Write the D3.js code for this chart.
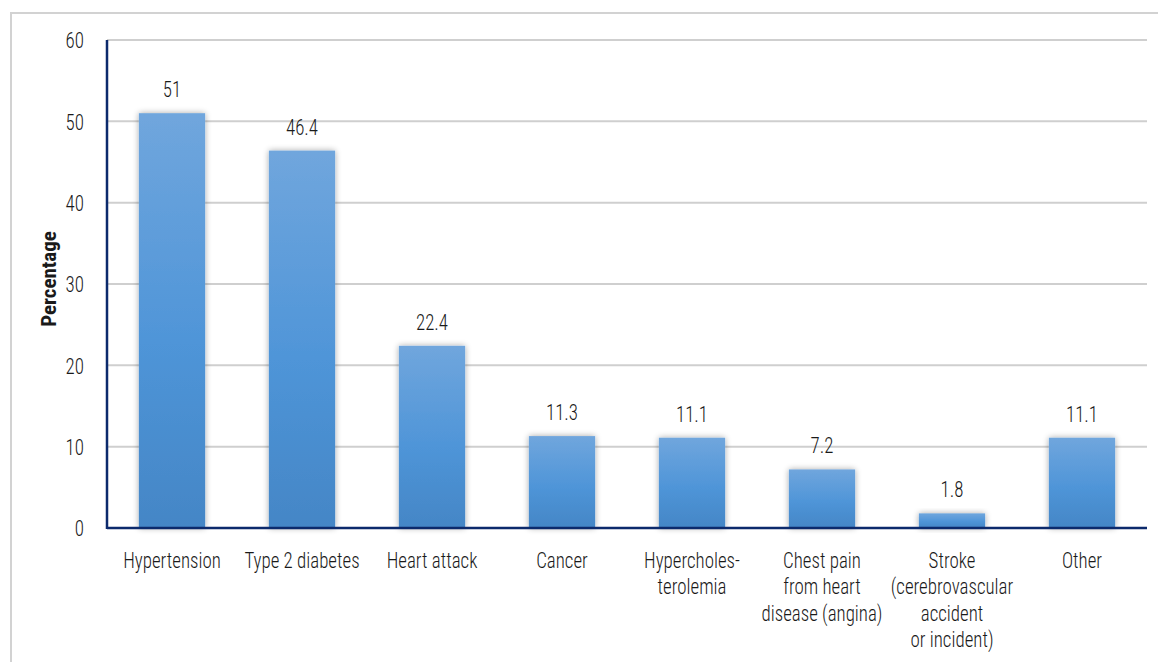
<!DOCTYPE html>
<html><head><meta charset="utf-8">
<script src="https://cdn.jsdelivr.net/npm/d3@7"></script>
<style>
html,body{margin:0;padding:0;background:#fff;}
svg text{font-family:"Roboto Condensed","Liberation Sans Narrow","DejaVu Sans Condensed",Roboto,sans-serif;fill:#1a1a1a;}
</style></head>
<body><svg id="c" width="1158" height="662"></svg>
<script>
const categories = ["Hypertension","Type 2  diabetes","Heart attack","Cancer","Hypercholes-|terolemia","Chest pain|from heart|disease (angina)","Stroke|(cerebrovascular|accident|or incident)","Other"];
const values = [51, 46.4, 22.4, 11.3, 11.1, 7.2, 1.8, 11.1];
const valueLabels = ["51","46.4","22.4","11.3","11.1","7.2","1.8","11.1"];
const yTicks = [0,10,20,30,40,50,60];
const yTitle = "Percentage";

const SX = 0.86, FS = 22, FW = 300;
const svg = d3.select("#c");
const m = {left:107, right:1147, top:40, bottom:528};

svg.append("path").attr("d","M11,670 L11,13 L1170,13").attr("fill","none").attr("stroke","#d2d2d2").attr("stroke-width",2);

const defs = svg.append("defs");
const g = defs.append("linearGradient").attr("id","bg").attr("x1",0).attr("y1",0).attr("x2",0).attr("y2",1);
g.append("stop").attr("offset","0%").attr("stop-color","#70a6dd");
g.append("stop").attr("offset","55%").attr("stop-color","#4f95d8");
g.append("stop").attr("offset","100%").attr("stop-color","#4486c6");
const f = defs.append("filter").attr("id","sh").attr("x","-30%").attr("y","-30%").attr("width","160%").attr("height","160%");
f.append("feGaussianBlur").attr("in","SourceAlpha").attr("stdDeviation",3).attr("result","b");
f.append("feComponentTransfer").attr("in","b").attr("result","o2").append("feFuncA").attr("type","linear").attr("slope",0.35);
const mg = f.append("feMerge"); mg.append("feMergeNode").attr("in","o2"); mg.append("feMergeNode").attr("in","SourceGraphic");

const x = d3.scaleBand().domain(categories).range([m.left, m.right]).paddingInner(0.49).paddingOuter(0.245);
const y = d3.scaleLinear().domain([0,60]).range([m.bottom, m.top]);

svg.append("g").selectAll("line").data(yTicks.filter(d=>d>0)).join("line")
  .attr("x1",m.left).attr("x2",m.right).attr("y1",d=>y(d)).attr("y2",d=>y(d))
  .attr("stroke","#cfcfcf").attr("stroke-width",2);

const ya = svg.append("g").attr("transform",`translate(${m.left},0)`)
  .call(d3.axisLeft(y).tickValues(yTicks).tickSize(0));
ya.select(".domain").remove();
ya.selectAll("text").attr("font-size",FS).attr("font-weight",FW).attr("font-family",null).attr("fill","#1a1a1a")
  .attr("x",0).attr("dy","0.36em").attr("transform",`translate(-23,0) scale(${SX},1)`);

svg.append("g").selectAll("rect").data(values).join("rect")
  .attr("x",(d,i)=>x(categories[i])).attr("width",x.bandwidth())
  .attr("y",d=>y(d)).attr("height",d=>y(0)-y(d))
  .attr("fill","url(#bg)").attr("filter","url(#sh)");

svg.append("g").selectAll("text").data(values).join("text")
  .attr("transform",(d,i)=>`translate(${x(categories[i])+x.bandwidth()/2},${y(d)-16}) scale(${SX},1)`)
  .attr("text-anchor","middle").attr("font-size",FS).attr("font-weight",FW).text((d,i)=>valueLabels[i]);

svg.append("line").attr("x1",m.left).attr("x2",m.left).attr("y1",m.top).attr("y2",m.bottom+1).attr("stroke","#0c2a6c").attr("stroke-width",2.5);
svg.append("line").attr("x1",m.left).attr("x2",m.right).attr("y1",m.bottom).attr("y2",m.bottom).attr("stroke","#0c2a6c").attr("stroke-width",2.5);

const xl = svg.append("g");
categories.forEach(c=>{
  const t = xl.append("text").attr("text-anchor","middle").attr("font-size",FS).attr("font-weight",FW)
    .attr("transform",`translate(${x(c)+x.bandwidth()/2},568) scale(${SX},1)`);
  c.split("|").forEach((ln,j)=>{
    t.append("tspan").attr("x",0).attr("dy", j===0?0:26.5).text(ln);
  });
});

svg.append("text").attr("transform",`translate(56,279) rotate(-90)`).attr("text-anchor","middle")
  .attr("font-size",21).attr("font-weight","bold").attr("fill","#000").text(yTitle);
</script></body></html>
